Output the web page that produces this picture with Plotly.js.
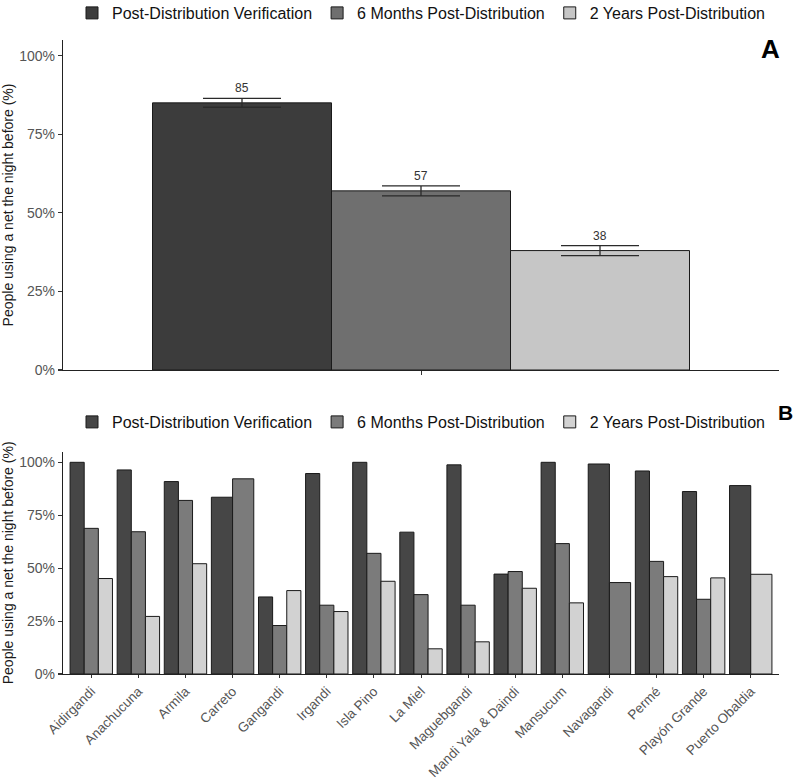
<!DOCTYPE html>
<html>
<head>
<meta charset="utf-8">
<script src="https://cdn.plot.ly/plotly-3.0.1.min.js"></script>
<style>html,body{margin:0;padding:0;background:#fff;}#chart{width:796px;height:783px;}</style>
</head>
<body>
<div id="chart"></div>
<script>
const seriesNames = ['Post-Distribution Verification', '6 Months Post-Distribution', '2 Years Post-Distribution'];
const overallCategory = ['Overall'];
const overallValues = [85, 57, 38];
const overallErrors = [1.4, 1.6, 1.6];
const overallLabels = ['85', '57', '38'];

const communities = ['Aidirgandi', 'Anachucuna', 'Armila', 'Carreto', 'Gangandi', 'Irgandi', 'Isla Pino', 'La Miel',
  'Maguebgandi', 'Mandi Yala & Daindi', 'Mansucum', 'Navagandi', 'Permé', 'Playón Grande', 'Puerto Obaldia'];
const pdvValues = [100, 96.4, 90.9, 83.5, 36.4, 94.7, 100, 67, 98.8, 47.2, 100, 99.2, 95.9, 86.2, 89];
const sixMonthValues = [68.8, 67.2, 82, 92.2, 22.9, 32.5, 57, 37.5, 32.5, 48.4, 61.6, 43.2, 53.2, 35.3, null];
const twoYearValues = [45.1, 27.2, 52.1, null, 39.4, 29.5, 43.8, 11.9, 15.2, 40.5, 33.6, null, 46, 45.4, 47.1];

const yTickValues = [0, 25, 50, 75, 100];
const yTickLabels = ['0%', '25%', '50%', '75%', '100%'];

const colorsA = ['#3c3c3c', '#6f6f6f', '#c6c6c6'];
const colorsB = ['#464646', '#7b7b7b', '#d2d2d2'];
const outline = '#1a1a1a';
const groupWidth = 0.9;
const yTitle = 'People using a net the night before (%)';
const fontFam = 'Liberation Sans, Arial, sans-serif';

const traces = [];
const annotations = [];

// Panel A: one category, three dodged bars
const nA = overallValues.length;
overallValues.forEach((v, k) => {
  const w = groupWidth / nA;
  const off = -groupWidth / 2 + k * w;
  traces.push({
    type: 'bar', x: overallCategory, y: [v], name: seriesNames[k],
    xaxis: 'x', yaxis: 'y', legend: 'legend',
    width: [w], offset: [off],
    marker: {color: colorsA[k], line: {color: outline, width: 1}},
    error_y: {type: 'data', array: [overallErrors[k]], visible: true, color: '#2a2a2a', thickness: 1.3, width: 39},
    hoverinfo: 'skip'
  });
  annotations.push({
    xref: 'x', yref: 'y', x: off + w / 2, y: v + overallErrors[k],
    text: overallLabels[k], showarrow: false, yanchor: 'bottom', yshift: 1,
    font: {family: fontFam, size: 12, color: '#333'}
  });
});

// Panel B: per-community dodge, only among series present (as ggplot does)
const seriesB = [pdvValues, sixMonthValues, twoYearValues];
const presentCount = communities.map((c, i) => seriesB.filter(s => s[i] !== null).length);
const presentRank = seriesB.map((s, k) => communities.map((c, i) =>
  seriesB.slice(0, k).filter(t => t[i] !== null).length));
seriesB.forEach((s, k) => {
  const widths = communities.map((c, i) => groupWidth / presentCount[i]);
  const offsets = communities.map((c, i) => -groupWidth / 2 + presentRank[k][i] * widths[i]);
  traces.push({
    type: 'bar', x: communities, y: s, name: seriesNames[k],
    xaxis: 'x2', yaxis: 'y2', legend: 'legend2',
    width: widths, offset: offsets,
    marker: {color: colorsB[k], line: {color: outline, width: 1}},
    hoverinfo: 'skip'
  });
});

annotations.push({xref: 'paper', yref: 'paper', x: 1.004, y: 0.9858, xanchor: 'right', yanchor: 'middle', showarrow: false,
  text: '<b>A</b>', font: {family: fontFam, size: 26, color: '#000'}});
annotations.push({xref: 'paper', yref: 'paper', x: 1.022, y: 0.4125, xanchor: 'right', yanchor: 'middle', showarrow: false,
  text: '<b>B</b>', font: {family: fontFam, size: 21, color: '#000'}});

const yAxisCommon = {
  range: [0, 105], tickmode: 'array', tickvals: yTickValues, ticktext: yTickLabels,
  showgrid: false, zeroline: false, showline: true, linecolor: '#222', linewidth: 1.2,
  ticks: 'outside', ticklen: 4, tickcolor: '#333', tickwidth: 1.1,
  tickfont: {family: fontFam, size: 14, color: '#555'},
  title: {text: yTitle, font: {family: fontFam, size: 14, color: '#1a1a1a'}, standoff: 3},
  fixedrange: true
};

const legendCommon = {
  orientation: 'h', xanchor: 'center', yanchor: 'top', x: 0.5,
  font: {family: fontFam, size: 16, color: '#111'}, itemwidth: 30, bgcolor: 'rgba(0,0,0,0)',
  traceorder: 'normal', itemclick: false
};

const layout = {
  width: 796, height: 783,
  margin: {l: 63, r: 17, t: 40, b: 109, autoexpand: false},
  paper_bgcolor: '#fff', plot_bgcolor: '#fff',
  barmode: 'overlay',
  showlegend: true,
  font: {family: fontFam},
  xaxis: {domain: [0, 1], anchor: 'y', type: 'category', range: [-0.6, 0.6],
    showline: true, linecolor: '#222', linewidth: 1.2, showgrid: false, zeroline: false,
    ticks: 'outside', ticklen: 4, tickcolor: '#333', showticklabels: false, fixedrange: true},
  yaxis: Object.assign({}, yAxisCommon, {domain: [0.4795, 1], anchor: 'x'}),
  xaxis2: {domain: [0, 1], anchor: 'y2', type: 'category', range: [-0.6, communities.length - 0.4],
    showline: true, linecolor: '#222', linewidth: 1.2, showgrid: false, zeroline: false,
    ticks: 'outside', ticklen: 3, tickcolor: '#333', tickangle: -45,
    tickfont: {family: fontFam, size: 13.5, color: '#555'}, fixedrange: true},
  yaxis2: Object.assign({}, yAxisCommon, {domain: [0, 0.3506], anchor: 'x2'}),
  legend: Object.assign({}, legendCommon, {y: 1.0694}),
  legend2: Object.assign({}, legendCommon, {y: 0.4243}),
  annotations: annotations
};

Plotly.newPlot('chart', traces, layout, {displayModeBar: false, staticPlot: true});
</script>
</body>
</html>
